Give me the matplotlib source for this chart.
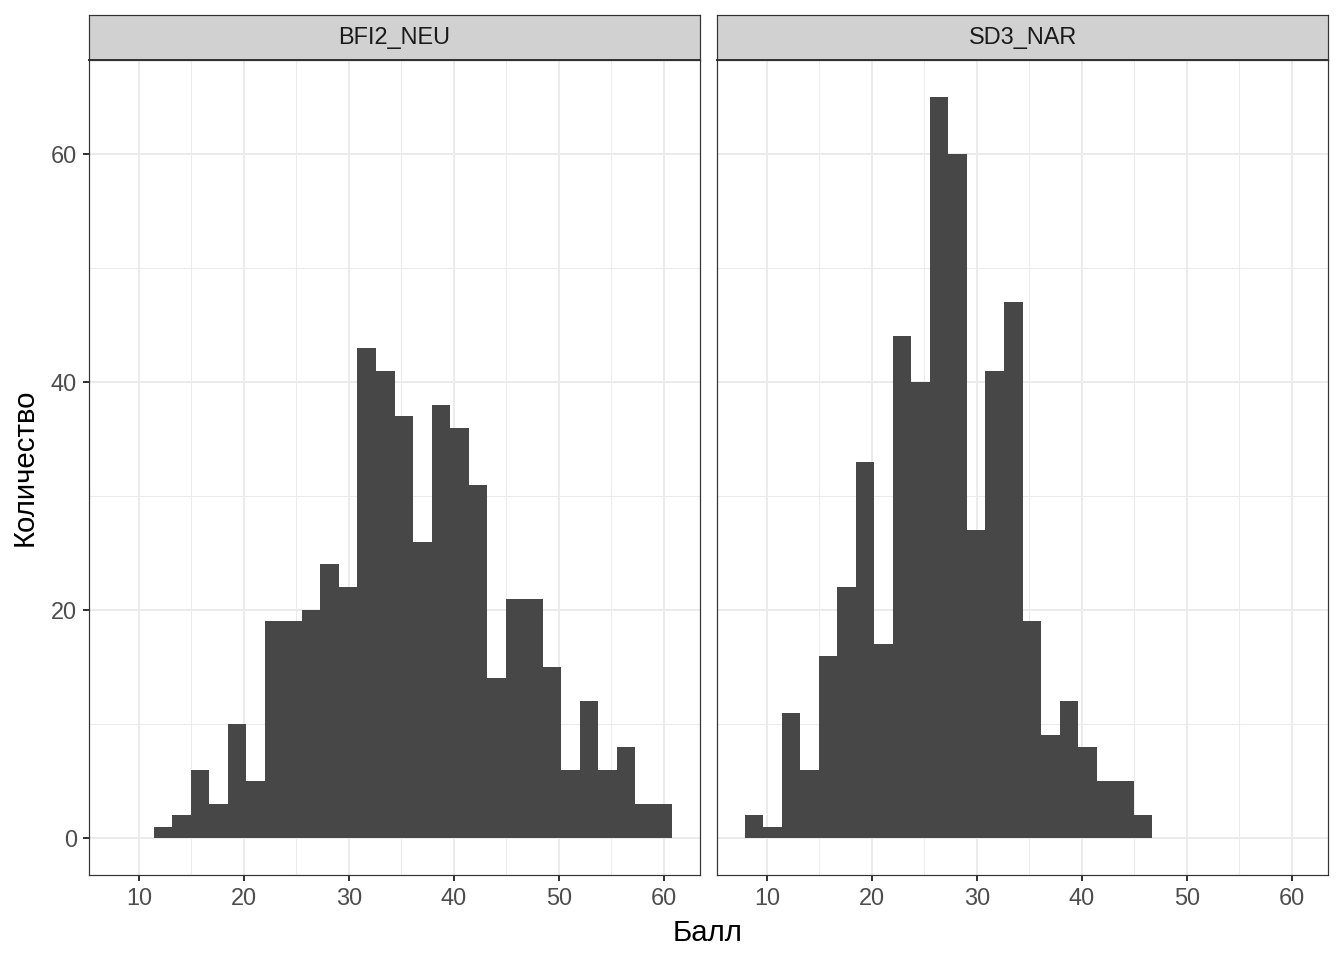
import numpy as np
import matplotlib
matplotlib.use("Agg")
import matplotlib.pyplot as plt

plt.rcParams['font.family'] = ['Liberation Sans', 'DejaVu Sans']

# histogram data (30 shared bins)
bin_start = 7.88
bin_width = 1.765
panels = ["BFI2_NEU", "SD3_NAR"]
bfi2_neu = [0, 0, 1, 2, 6, 3, 10, 5, 19, 19, 20, 24, 22, 43, 41, 37, 26, 38, 36, 31,
            14, 21, 21, 15, 6, 12, 6, 8, 3, 3]
sd3_nar = [2, 1, 11, 6, 16, 22, 33, 17, 44, 40, 65, 60, 27, 41, 47, 19, 9, 12, 8, 5,
           5, 2, 0, 0, 0, 0, 0, 0, 0, 0]
x_ticks = [10, 20, 30, 40, 50, 60]
y_ticks = [0, 20, 40, 60]

edges = bin_start + bin_width * np.arange(len(bfi2_neu) + 1)
ymax = max(max(bfi2_neu), max(sd3_nar))
xspan = edges[-1] - edges[0]
xlim = (edges[0] - 0.05 * xspan, edges[-1] + 0.05 * xspan)
ylim = (-0.05 * ymax, ymax * 1.05)

W, H = 1344, 960
fig = plt.figure(figsize=(7, 5), dpi=192)

grey20 = "#333333"

for i, (name, counts) in enumerate(zip(panels, [bfi2_neu, sd3_nar])):
    x0 = [89, 717][i]
    ax = fig.add_axes([x0 / W, 1 - 875 / H, 611 / W, 815 / H])
    ax.stairs(counts, edges, fill=True, color="#474747", linewidth=0)
    ax.set_xlim(xlim)
    ax.set_ylim(ylim)
    ax.set_xticks(x_ticks)
    ax.set_xticks([15, 25, 35, 45, 55], minor=True)
    ax.set_yticks(y_ticks)
    ax.set_yticks([10, 30, 50], minor=True)
    ax.set_axisbelow(True)
    ax.grid(which='major', color="#ebebeb", linewidth=0.75)
    ax.grid(which='minor', color="#ebebeb", linewidth=0.4)
    for s in ax.spines.values():
        s.set_color(grey20)
        s.set_linewidth(0.45)
    ax.tick_params(which='major', length=2.4, width=0.75, color=grey20,
                   labelcolor="#4d4d4d", labelsize=8.8, pad=2.2)
    ax.tick_params(which='minor', length=0)
    if i == 1:
        ax.tick_params(axis='y', which='both', left=False, labelleft=False)

    # facet strip
    sax = fig.add_axes([x0 / W, 1 - 60 / H, 611 / W, 45 / H])
    sax.set_facecolor("#d1d1d1")
    sax.set_xticks([])
    sax.set_yticks([])
    for s in sax.spines.values():
        s.set_color(grey20)
        s.set_linewidth(0.45)
    sax.spines['bottom'].set_linewidth(0.75)
    sax.text(0.5, 0.5, name, ha='center', va='center', fontsize=8.8,
             color="#1a1a1a", transform=sax.transAxes)

fig.text(708 / W, 1 - 933 / H, "Балл", ha='center', va='center', fontsize=11, color='black')
fig.text(25 / W, 1 - 467 / H, "Количество", ha='center', va='center', rotation=90,
         fontsize=11, color='black')

fig.savefig("out.png", dpi=192)
